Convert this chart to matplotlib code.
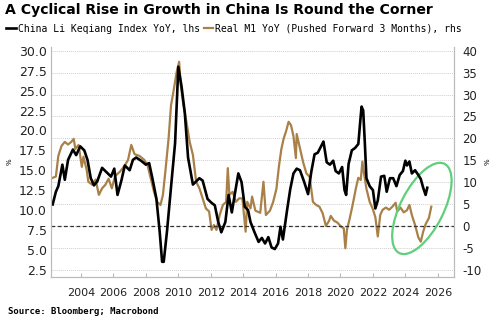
import numpy as np
import matplotlib
matplotlib.use('Agg')
import matplotlib.pyplot as plt
import matplotlib.transforms as mtransforms
from matplotlib.patches import Ellipse

# China Li Keqiang Index YoY (lhs), decimal years
lk_t = [2002.25, 2002.45, 2002.6, 2002.85, 2003.0, 2003.2, 2003.5, 2003.7, 2003.95, 2004.2,
        2004.4, 2004.6, 2004.8, 2005.0, 2005.3, 2005.6, 2005.85, 2006.05, 2006.25, 2006.5,
        2006.7, 2007.0, 2007.2, 2007.4, 2007.7, 2008.0, 2008.2, 2008.4, 2008.65, 2008.85,
        2009.0, 2009.1, 2009.3, 2009.6, 2009.8, 2010.0, 2010.2, 2010.4, 2010.6, 2010.9,
        2011.1, 2011.3, 2011.5, 2011.8, 2012.05, 2012.25, 2012.45, 2012.65, 2012.9, 2013.1,
        2013.3, 2013.5, 2013.7, 2013.9, 2014.1, 2014.3, 2014.45, 2014.7, 2014.95, 2015.15,
        2015.35, 2015.55, 2015.75, 2015.95, 2016.15, 2016.3, 2016.45, 2016.7, 2016.9, 2017.1,
        2017.3, 2017.5, 2017.75, 2018.0, 2018.2, 2018.4, 2018.6, 2018.85, 2018.95, 2019.15,
        2019.35, 2019.55, 2019.7, 2019.9, 2020.1, 2020.25, 2020.35, 2020.5, 2020.7, 2020.9,
        2021.1, 2021.2, 2021.3, 2021.4, 2021.5, 2021.6, 2021.8, 2022.0, 2022.15, 2022.3,
        2022.5, 2022.7, 2022.85, 2023.05, 2023.25, 2023.45, 2023.65, 2023.85, 2024.0, 2024.1,
        2024.25, 2024.4, 2024.6, 2024.8, 2024.95, 2025.1, 2025.25, 2025.35]
lk_v = [10.7, 12.3, 13.0, 15.7, 13.8, 16.3, 17.6, 16.9, 18.0, 17.5,
        16.3, 14.0, 13.1, 13.6, 15.3, 14.7, 14.2, 15.2, 11.9, 13.8,
        15.6, 15.0, 16.3, 16.6, 16.2, 15.7, 15.9, 14.0, 11.4, 7.3,
        3.5, 3.5, 7.3, 14.0, 18.4, 28.0, 25.5, 22.2, 16.6, 13.2,
        13.6, 14.0, 13.7, 11.4, 10.9, 10.6, 8.6, 7.2, 8.5, 11.9,
        9.7, 12.2, 14.6, 13.5, 10.4, 10.0, 8.5, 7.2, 6.0, 6.5,
        5.8, 6.6, 5.3, 5.1, 5.8, 7.9, 6.3, 9.9, 12.6, 14.6,
        15.2, 15.0, 13.6, 12.0, 14.8, 17.0, 17.2, 18.2, 18.6, 16.0,
        15.7, 16.2, 14.9, 14.6, 15.4, 12.5, 11.9, 15.8, 17.5, 17.8,
        18.3, 20.7, 23.0, 22.5, 18.5, 14.0, 13.0, 12.5, 10.2, 11.2,
        14.2, 14.3, 12.3, 14.0, 14.0, 13.0, 14.4, 14.9, 16.2, 15.6,
        16.1, 14.6, 15.0, 14.4, 13.9, 12.8, 11.9, 12.8]

# Real M1 YoY pushed forward 3 months (rhs)
m1_t = [2002.2, 2002.45, 2002.6, 2002.8, 2003.0, 2003.2, 2003.4, 2003.55, 2003.65, 2003.85,
        2004.05, 2004.15, 2004.35, 2004.45, 2004.7, 2004.9, 2005.1, 2005.3, 2005.5, 2005.7,
        2005.9, 2006.1, 2006.4, 2006.7, 2006.9, 2007.1, 2007.3, 2007.6, 2007.9, 2008.1,
        2008.3, 2008.5, 2008.7, 2008.9, 2009.05, 2009.2, 2009.4, 2009.55, 2009.7, 2009.9,
        2010.05, 2010.15, 2010.3, 2010.5, 2010.7, 2010.9, 2011.1, 2011.3, 2011.5, 2011.7,
        2011.9, 2012.05, 2012.2, 2012.35, 2012.55, 2012.75, 2012.95, 2013.05, 2013.15, 2013.35,
        2013.55, 2013.75, 2013.95, 2014.05, 2014.15, 2014.25, 2014.45, 2014.55, 2014.75, 2015.05,
        2015.25, 2015.4, 2015.65, 2015.85, 2016.05, 2016.2, 2016.35, 2016.5, 2016.65, 2016.8,
        2016.95, 2017.1, 2017.25, 2017.3, 2017.5, 2017.7, 2017.9, 2018.1, 2018.3, 2018.5,
        2018.7, 2018.9, 2019.1, 2019.3, 2019.4, 2019.6, 2019.8, 2020.05, 2020.2, 2020.3,
        2020.4, 2020.55, 2020.75, 2020.95, 2021.1, 2021.25, 2021.35, 2021.45, 2021.6, 2021.8,
        2022.0, 2022.15, 2022.3, 2022.45, 2022.6, 2022.8, 2023.0, 2023.2, 2023.4, 2023.5,
        2023.7, 2023.9, 2024.1, 2024.25, 2024.4, 2024.6, 2024.8, 2024.95, 2025.1, 2025.25,
        2025.45, 2025.6]
m1_v = [10.9, 11.3, 16.0, 18.3, 19.2, 18.6, 19.2, 19.9, 17.6, 18.5,
        13.5, 15.8, 12.8, 10.1, 9.4, 10.6, 7.1, 8.6, 9.4, 10.8,
        8.6, 11.4, 12.4, 13.8, 15.1, 18.5, 16.4, 16.0, 15.1, 13.9,
        10.9, 7.8, 5.5, 4.8, 7.1, 12.4, 20.0, 27.6, 30.7, 35.2,
        37.5, 32.2, 28.0, 23.8, 19.2, 16.2, 10.1, 8.6, 6.3, 4.0,
        3.3, -0.9, 0.2, -0.9, 2.5, 4.8, 5.5, 13.2, 7.1, 7.8,
        5.5, 6.3, 6.3, 2.5, -1.3, 5.5, 4.0, 6.7, 3.5, 3.0,
        10.1, 2.5, 3.5, 5.5, 8.5, 13.5, 17.5, 20.0, 21.7, 23.8,
        23.0, 20.5, 15.5, 21.0, 17.8, 14.5, 12.0, 11.2, 5.5, 4.8,
        4.4, 2.9, 0.0, 1.2, 2.3, 1.2, 0.8, -0.2, -0.5, -5.1,
        -0.8, 1.4, 4.8, 8.6, 11.0, 10.5, 14.7, 12.0, 8.5, 5.5,
        3.8, 2.0, -2.4, 2.5, 3.7, 4.2, 3.7, 4.4, 5.3, 3.3,
        4.2, 3.1, 3.6, 4.8, 2.5, 0.2, -2.6, -3.6, -1.3, 0.4,
        1.8, 4.4]

left_ticks = np.arange(2.5, 30.01, 2.5)
right_ticks = np.arange(-10, 40.1, 5)
year_ticks = np.arange(2004, 2027, 2)
labels = ['China Li Keqiang Index YoY, lhs', 'Real M1 YoY (Pushed Forward 3 Months), rhs']

fig = plt.figure(figsize=(5, 3.22), dpi=100)
ax = fig.add_axes([0.1014, 0.14, 0.8066, 0.714])
ax2 = ax.twinx()
ax.set_zorder(ax2.get_zorder() + 1)
ax.patch.set_visible(False)

l2, = ax2.plot(m1_t, m1_v, color='#a98048', lw=1.6)
l1, = ax.plot(lk_t, lk_v, color='black', lw=1.9)
ax2.axhline(0, ls=(0, (3, 2)), color='#333333', lw=0.9)

ax.set_xlim(2002.13, 2027.0)
ax2.set_ylim(-11.64, 40.87)
ax.set_ylim(1.6, 30.48)
ax.set_yticks(left_ticks)
ax.set_yticklabels(['%.1f' % v for v in left_ticks])
ax2.set_yticks(right_ticks)
ax2.set_yticklabels(['%d' % v for v in right_ticks])
ax.set_xticks(year_ticks)
ax.set_xticklabels([str(y) for y in year_ticks])

ax2.grid(axis='y', color='#cfcfcf', ls=(0, (1, 1)), lw=0.7)
ax2.set_axisbelow(True)
for a in (ax, ax2):
    a.spines['top'].set_visible(False)
    for s in ('left', 'right', 'bottom'):
        a.spines[s].set_color('#bbbbbb')
        a.spines[s].set_linewidth(0.8)
ax.tick_params(axis='y', length=0, labelsize=9, pad=3, labelcolor='#222222')
ax2.tick_params(axis='y', length=0, labelsize=8.5, pad=6, labelcolor='#222222')
ax.tick_params(axis='x', direction='in', length=3, color='#bbbbbb', labelsize=8, pad=8,
               labelcolor='#222222')
ax.set_ylabel('%', fontsize=5, labelpad=4)
ax2.set_ylabel('%', fontsize=5, labelpad=2)

# green highlight ellipse around the latest readings
trans = fig.dpi_scale_trans + mtransforms.ScaledTranslation(2025.02, 4.0, ax2.transData)
ax2.add_patch(Ellipse((0, 0), 1.0, 0.43, angle=63, transform=trans, fill=False,
                      edgecolor='#5fcf7c', lw=1.6, zorder=5))

fig.text(0.01, 0.99, 'A Cyclical Rise in Growth in China Is Round the Corner',
         fontsize=10.1, fontweight='bold', va='top', ha='left')
fig.legend(handles=[l1, l2], labels=labels,
           loc='upper left', bbox_to_anchor=(0.0, 0.945), ncol=2, frameon=False,
           prop={'family': 'DejaVu Sans Mono', 'size': 7}, handlelength=1.0,
           handletextpad=0.2, columnspacing=0.4, borderaxespad=0.2)
fig.text(0.015, 0.02, 'Source: Bloomberg; Macrobond', fontsize=6.5, fontweight='bold',
         family='DejaVu Sans Mono', va='bottom')

fig.savefig('out.png', dpi=100)
